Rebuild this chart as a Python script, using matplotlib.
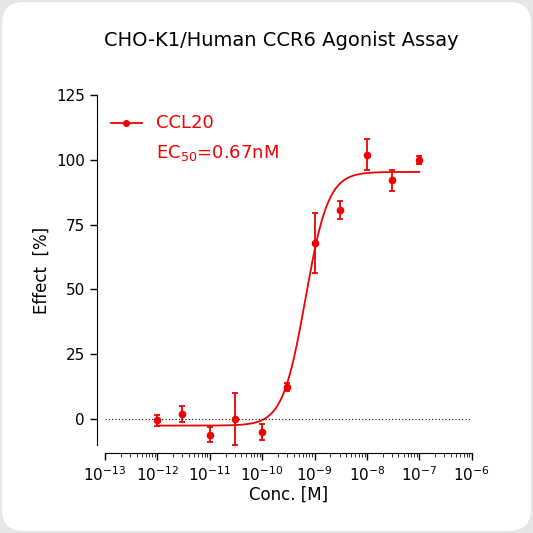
import numpy as np
import matplotlib.pyplot as plt
from matplotlib.patches import FancyBboxPatch

conc = np.array([1e-12, 3e-12, 1e-11, 3e-11, 1e-10, 3e-10, 1e-9, 3e-9, 1e-8, 3e-8, 1e-7])
effect = np.array([-0.5, 2, -6, 0, -5, 12.5, 68, 80.5, 102, 92, 100])
err = np.array([2, 3, 3, 10, 3, 1.5, 11.5, 3.5, 6, 4, 1.5])

# fit parameters
bottom, top, ec50, hill = -2.5, 95.3, 0.67e-9, 2.0

fig = plt.figure(figsize=(5.33, 5.33), dpi=100)
fig.patch.set_facecolor('#e6e6e6')
card = FancyBboxPatch((0.004, 0.004), 0.992, 0.992, boxstyle="round,pad=0,rounding_size=0.04",
                      transform=fig.transFigure, facecolor='white', edgecolor='none', zorder=-10)
fig.patches.append(card)

ax = fig.add_axes([0.197, 0.165, 0.688, 0.657])
ax.set_zorder(5)
ax.patch.set_alpha(0)
red = '#f00000'
xx = np.logspace(-12, -7, 400)
yy = bottom + (top - bottom) / (1 + (ec50 / xx) ** hill)
ax.plot(xx, yy, color=red, lw=1.3)
ax.errorbar(conc, effect, yerr=err, fmt='o', color=red, ms=4.5, capsize=2.5, elinewidth=1.3, capthick=1.3)
ax.axhline(0, color='black', lw=0.8, ls=(0, (1, 2)))

ax.set_xscale('log')
ax.set_xlim(1e-13, 1e-6)
ax.set_ylim(-10, 125)
ax.set_yticks([0, 25, 50, 75, 100, 125])
ax.set_xticks([10.0 ** e for e in range(-13, -5)])
ax.set_xticklabels([r'10$^{%d}$' % e for e in range(-13, -5)])
ax.xaxis.set_minor_locator(plt.matplotlib.ticker.LogLocator(base=10, subs=np.arange(2, 10), numticks=20))
for s in ['top', 'right']:
    ax.spines[s].set_visible(False)
ax.spines['left'].set_position(('outward', 6))
ax.spines['bottom'].set_position(('outward', 6))
ax.tick_params(labelsize=11, width=1, length=5)
ax.tick_params(which='minor', length=3)
ax.set_xlabel('Conc. [M]', fontsize=12, labelpad=1)
ax.set_ylabel('Effect  [%]', fontsize=12)
ax.set_title('CHO-K1/Human CCR6 Agonist Assay', fontsize=14, pad=35, x=0.48)

ax.plot([0.015, 0.1], [0.92, 0.92], transform=ax.transAxes, color=red, lw=1.3, clip_on=False)
ax.plot([0.058], [0.92], transform=ax.transAxes, color=red, marker='o', ms=4)
ax.text(0.14, 0.92, 'CCL20', transform=ax.transAxes, color=red, fontsize=13, va='center')
ax.text(0.14, 0.835, r'EC$_{50}$=0.67nM', transform=ax.transAxes, color=red, fontsize=13, va='center')

plt.savefig('out.png', dpi=100, facecolor=fig.get_facecolor())
